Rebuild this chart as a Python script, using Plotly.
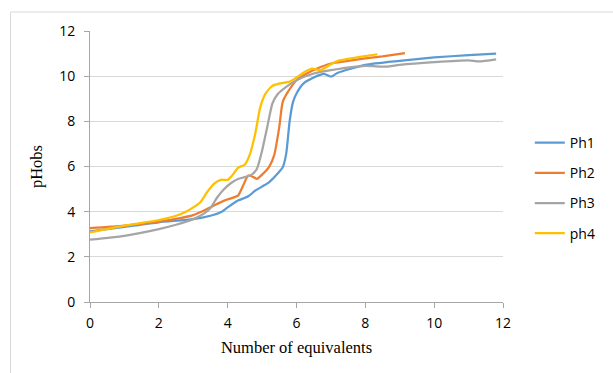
import plotly.graph_objects as go

# Ph1 (blue)
ph1_x = [0, 1, 2, 3, 3.5, 3.8, 4.0, 4.3, 4.6, 4.8, 5.0, 5.2, 5.4, 5.6, 5.7, 5.8, 5.9, 6.0, 6.2, 6.5, 6.8, 7.0, 7.2, 8.0, 9.0, 10.0, 11.0, 11.8]
ph1_y = [3.13, 3.33, 3.53, 3.67, 3.82, 3.97, 4.19, 4.49, 4.68, 4.93, 5.11, 5.3, 5.6, 5.97, 6.56, 8.0, 8.86, 9.23, 9.67, 9.94, 10.1, 9.98, 10.15, 10.5, 10.68, 10.83, 10.93, 11.0]

# Ph2 (orange)
ph2_x = [0, 1, 2, 3, 3.3, 3.6, 3.9, 4.1, 4.3, 4.45, 4.6, 4.75, 4.85, 5.0, 5.2, 5.35, 5.5, 5.6, 5.75, 6.0, 6.3, 6.6, 7.0, 7.5, 8.0, 8.5, 9.15]
ph2_y = [3.27, 3.38, 3.56, 3.85, 4.04, 4.27, 4.49, 4.59, 4.71, 5.16, 5.6, 5.53, 5.45, 5.64, 5.97, 6.49, 7.75, 8.86, 9.3, 9.82, 10.12, 10.34, 10.56, 10.68, 10.79, 10.88, 11.02]

# Ph3 (gray)
ph3_x = [0, 1, 2, 2.5, 3, 3.3, 3.5, 3.7, 3.9, 4.1, 4.3, 4.5, 4.7, 4.85, 5.0, 5.15, 5.3, 5.45, 5.7, 6.0, 6.5, 7.0, 8.0, 8.6, 9.0, 10.0, 11.0, 11.3, 11.8]
ph3_y = [2.76, 2.93, 3.23, 3.42, 3.67, 3.9, 4.16, 4.64, 5.0, 5.27, 5.45, 5.53, 5.64, 5.9, 6.7, 7.75, 8.79, 9.2, 9.53, 9.82, 10.12, 10.27, 10.46, 10.42, 10.5, 10.62, 10.7, 10.65, 10.74]

# ph4 (yellow)
ph4_x = [0, 1, 2, 2.5, 2.8, 3.0, 3.2, 3.4, 3.6, 3.8, 4.0, 4.15, 4.3, 4.5, 4.65, 4.8, 4.95, 5.1, 5.3, 5.5, 5.8, 6.0, 6.2, 6.45, 6.7, 7.0, 7.2, 7.8, 8.35]
ph4_y = [3.08, 3.38, 3.63, 3.82, 4.01, 4.19, 4.41, 4.86, 5.23, 5.41, 5.41, 5.64, 5.94, 6.09, 6.56, 7.45, 8.64, 9.23, 9.57, 9.67, 9.76, 9.94, 10.15, 10.33, 10.27, 10.53, 10.68, 10.84, 10.97]

series = [
    ("Ph1", ph1_x, ph1_y, "#5b9bd5"),
    ("Ph2", ph2_x, ph2_y, "#ed7d31"),
    ("Ph3", ph3_x, ph3_y, "#a5a5a5"),
    ("ph4", ph4_x, ph4_y, "#ffc000"),
]

x_ticks = [0, 2, 4, 6, 8, 10, 12]
y_ticks = [0, 2, 4, 6, 8, 10, 12]

fig = go.Figure()
for name, xs, ys, col in series:
    fig.add_trace(go.Scatter(x=xs, y=ys, mode="lines", name=name, legendgroup=name,
                             line=dict(color=col, width=2.25, shape="spline", smoothing=0.6)))

W, H = 613, 373
L, R, T, B = 90, 107, 31, 71
pw, ph = W - L - R, H - T - B

def px2paper_x(p):
    return (p - L) / pw

def px2paper_y(p):
    return (H - B - p) / ph

fig.add_shape(type="rect", xref="paper", yref="paper",
              x0=px2paper_x(10), x1=px2paper_x(640), y0=px2paper_y(400), y1=px2paper_y(12),
              line=dict(color="#d9d9d9", width=1), fillcolor="rgba(0,0,0,0)", layer="below")

serif = "Liberation Serif, Times New Roman, serif"

fig.update_layout(
    width=W, height=H,
    margin=dict(l=L, r=R, t=T, b=B),
    paper_bgcolor="white", plot_bgcolor="white",
    font=dict(family="Open Sans, Liberation Sans, sans-serif", size=13, color="#000000"),
    showlegend=True,
    legend=dict(x=px2paper_x(533), y=px2paper_y(127), xanchor="left", yanchor="top",
                font=dict(size=14), tracegroupgap=9, itemwidth=30, bgcolor="rgba(0,0,0,0)"),
    xaxis=dict(range=[0, 12], tickvals=x_ticks, showgrid=False, zeroline=False,
               showline=True, linecolor="#a6a6a6", linewidth=1,
               ticks="outside", ticklen=5, tickcolor="#a6a6a6",
               tickfont=dict(size=14), ticklabelstandoff=3,
               title=dict(text="Number of equivalents", font=dict(family=serif, size=16.5),
                          standoff=10)),
    yaxis=dict(range=[0, 12], tickvals=y_ticks, showgrid=True, gridcolor="#d9d9d9", gridwidth=1,
               zeroline=False, showline=True, linecolor="#a6a6a6", linewidth=1,
               ticks="outside", ticklen=5, tickcolor="#a6a6a6",
               tickfont=dict(size=14), ticklabelstandoff=6,
               title=dict(text="pHobs", font=dict(family=serif, size=16.5),
                          standoff=12)),
)

fig.write_html("out.html")
